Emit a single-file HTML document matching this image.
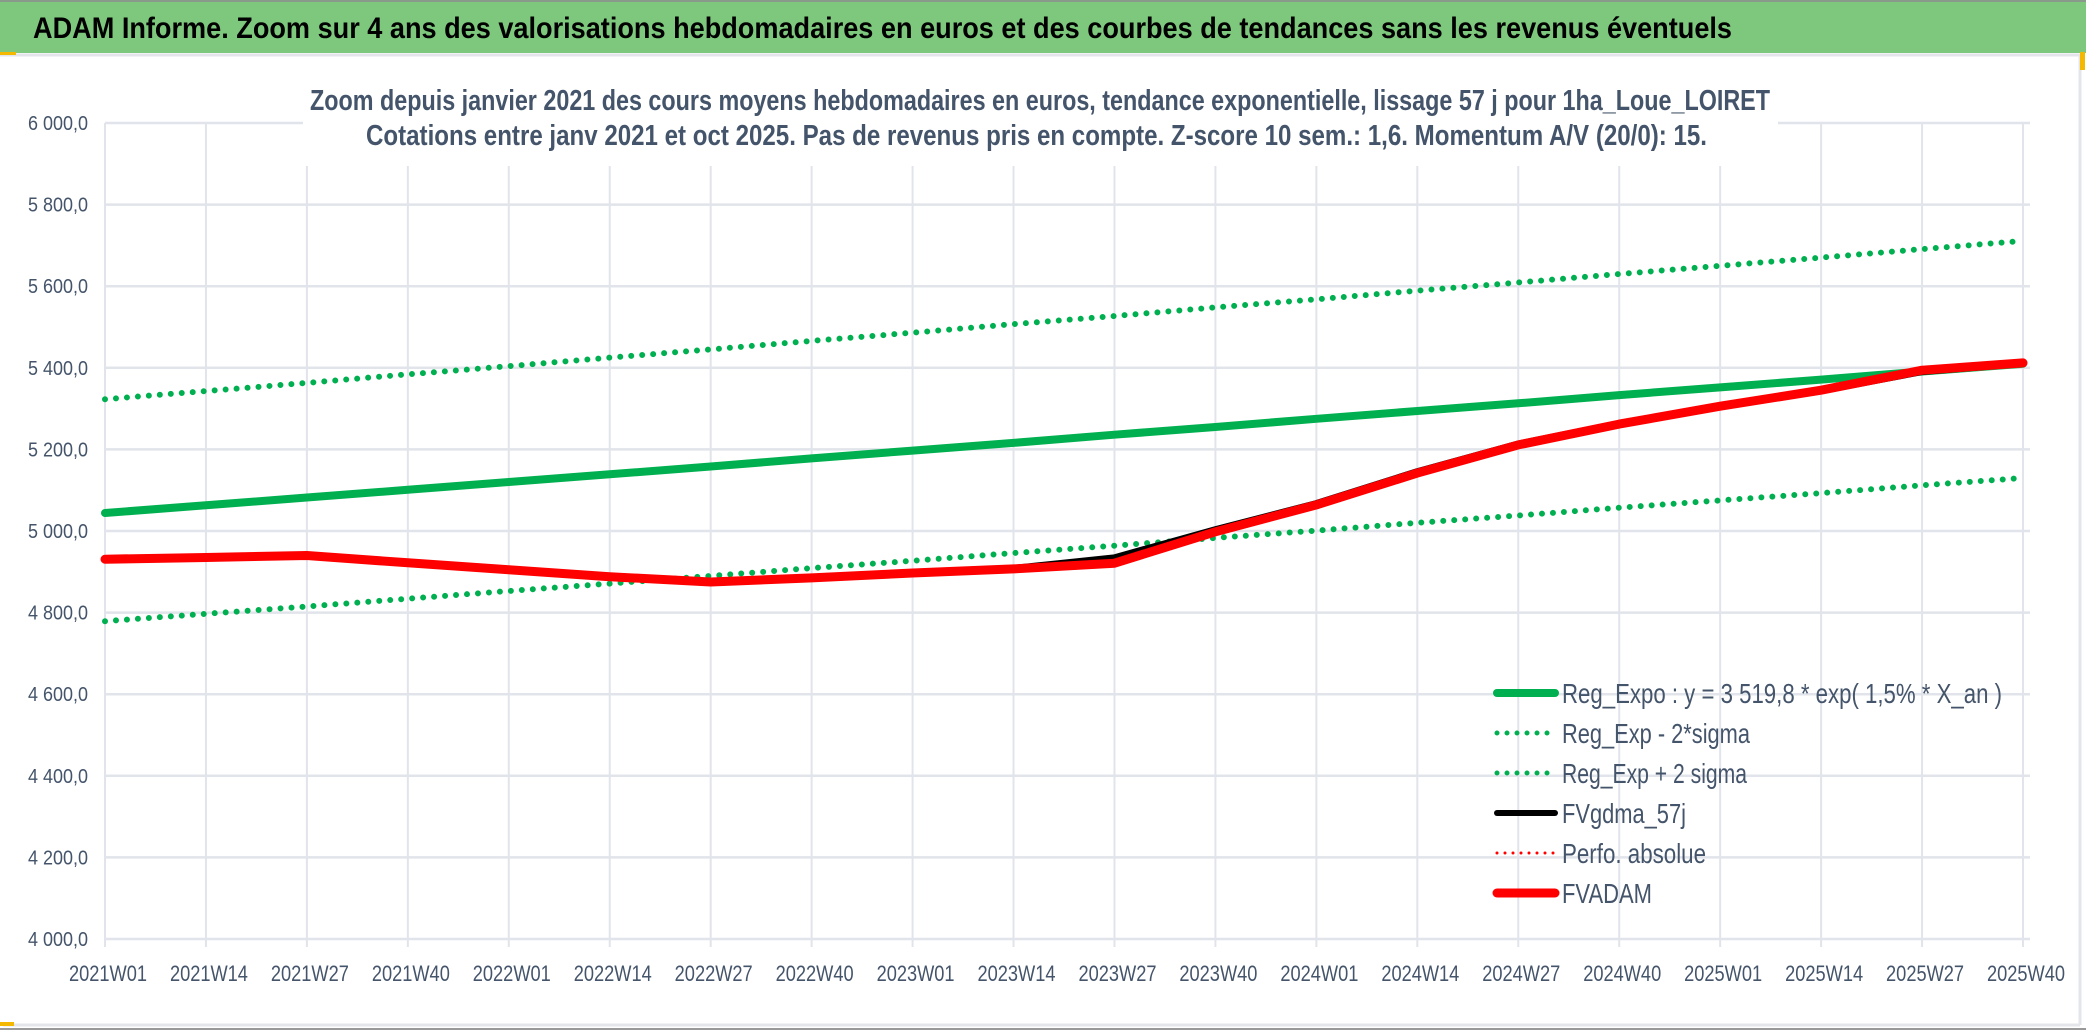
<!DOCTYPE html>
<html><head><meta charset="utf-8"><style>
html,body{margin:0;padding:0;background:#fff}
svg{display:block}
text{font-family:"Liberation Sans",sans-serif}
</style></head><body>
<svg id="chart" width="2086" height="1031" viewBox="0 0 2086 1031" xmlns="http://www.w3.org/2000/svg">
<rect x="0" y="0" width="2086" height="1031" fill="#fff"/>
<rect x="0" y="0" width="2086" height="53" fill="#7DC87D"/>
<line x1="0" y1="1" x2="2086" y2="1" stroke="#8a9a8a" stroke-width="2"/>
<line x1="0" y1="55" x2="2080" y2="55" stroke="#e3e5ea" stroke-width="3"/>
<line x1="2080" y1="55" x2="2080" y2="1025" stroke="#e3e5ea" stroke-width="3"/>
<line x1="3" y1="1025" x2="2080" y2="1025" stroke="#e3e5ea" stroke-width="3"/>
<line x1="0" y1="1029" x2="2086" y2="1029" stroke="#999" stroke-width="2"/>
<rect x="2080" y="52" width="5" height="18" fill="#F5B800"/>
<rect x="0" y="52" width="16" height="3" fill="#F5B800"/>
<rect x="0" y="1022" width="14" height="4" fill="#F5B800"/>
<text x="33" y="38" font-size="30" font-weight="bold" fill="#000" textLength="1699" lengthAdjust="spacingAndGlyphs">ADAM Informe. Zoom sur 4 ans des valorisations hebdomadaires en euros et des courbes de tendances sans les revenus éventuels</text>
<g id="grid"></g>
<rect x="303" y="70" width="1475" height="96" fill="#fff"/>
<text x="310" y="110" font-size="29" font-weight="bold" fill="#44546A" textLength="1460" lengthAdjust="spacingAndGlyphs">Zoom depuis janvier 2021 des cours moyens hebdomadaires en euros, tendance exponentielle, lissage 57 j pour 1ha_Loue_LOIRET</text>
<text x="366" y="145" font-size="29" font-weight="bold" fill="#44546A" textLength="1341" lengthAdjust="spacingAndGlyphs">Cotations entre janv 2021 et oct 2025. Pas de revenus pris en compte. Z-score 10 sem.: 1,6. Momentum A/V (20/0): 15.</text>
<g id="axes"></g>
<g id="series"></g>
<g id="legend"></g>
</svg>
<script>
const categories=["2021W01","2021W14","2021W27","2021W40","2022W01","2022W14","2022W27","2022W40","2023W01","2023W14","2023W27","2023W40","2024W01","2024W14","2024W27","2024W40","2025W01","2025W14","2025W27","2025W40"];
const yTicks=[4000,4200,4400,4600,4800,5000,5200,5400,5600,5800,6000];
const yTickLabels=["4 000,0","4 200,0","4 400,0","4 600,0","4 800,0","5 000,0","5 200,0","5 400,0","5 600,0","5 800,0","6 000,0"];
const regExpo=[5044,5063,5082,5101,5120,5139,5158,5178,5197,5216,5236,5255,5275,5294,5313,5333,5352,5371,5391,5410];
const regLow=[4779,4797,4815,4834,4853,4871,4890,4909,4927,4946,4964,4983,5001,5020,5038,5057,5075,5093,5112,5130];
const regHigh=[5323,5343,5363,5384,5404,5425,5445,5466,5486,5507,5527,5548,5568,5589,5609,5630,5650,5670,5691,5711];
const fvgdma=[4931,4935,4940,4922,4905,4888,4875,4885,4897,4907,4933,5002,5066,5144,5212,5262,5306,5345,5392,5412];
const perfo=[4931,4935,4940,4922,4905,4888,4875,4885,4897,4907,4921,4998,5064,5142,5211,5262,5306,5345,5394,5412];
const fvadam=[4931,4935,4940,4922,4905,4888,4875,4885,4897,4907,4921,4998,5064,5142,5211,5262,5306,5345,5394,5412];
const legendLabels=["Reg_Expo : y = 3 519,8 * exp( 1,5% *  X_an )","Reg_Exp - 2*sigma","Reg_Exp + 2 sigma","FVgdma_57j","Perfo. absolue","FVADAM"];

const NS="http://www.w3.org/2000/svg";
const X0=105,X1=2023,Y0=939,Y1=123,VMIN=4000,VMAX=6000;
const legendWidths=[440,188,185,124,144,90];
function xs(i){return X0+(X1-X0)*i/(categories.length-1);}
function ys(v){return Y0-(Y0-Y1)*(v-VMIN)/(VMAX-VMIN);}
function mk(tag,attrs,parent){const e=document.createElementNS(NS,tag);for(const k in attrs)e.setAttribute(k,attrs[k]);parent.appendChild(e);return e;}
const grid=document.getElementById('grid'),axes=document.getElementById('axes'),series=document.getElementById('series'),legend=document.getElementById('legend');
yTicks.forEach((v,i)=>{
  const l=mk('line',{x1:X0,x2:2030,y1:ys(v),y2:ys(v),stroke:'#E1E4EA','stroke-width':2.5},grid);
  
  
  const t=mk('text',{x:88,y:ys(v)+7,'font-size':20,fill:'#44546A','text-anchor':'end',textLength:60,lengthAdjust:'spacingAndGlyphs'},axes);
  t.textContent=yTickLabels[i];
  
  
});
categories.forEach((c,i)=>{
  const l=mk('line',{x1:xs(i),x2:xs(i),y1:Y1,y2:Y0+8,stroke:'#E1E4EA','stroke-width':2},grid);
  
  
  const t=mk('text',{x:xs(i)+3,y:981,'font-size':22,fill:'#44546A','text-anchor':'middle',textLength:78,lengthAdjust:'spacingAndGlyphs'},axes);
  t.textContent=c;
  
  
});
function path(vals){return vals.map((v,i)=>(i?'L':'M')+xs(i).toFixed(1)+' '+ys(v).toFixed(1)).join(' ');}
const styles=[
 {vals:regHigh,color:'#00B050',w:6,dash:'0 11',name:'reg-exp-plus-2sigma-line'},
 {vals:regLow,color:'#00B050',w:6,dash:'0 11',name:'reg-exp-minus-2sigma-line'},
 {vals:regExpo,color:'#00B050',w:8,dash:'',name:'reg-expo-line'},
 {vals:fvgdma,color:'#000',w:8,dash:'',name:'fvgdma-57j-line'},
 {vals:perfo,color:'#FF0000',w:3,dash:'0 7',name:'perfo-absolue-line'},
 {vals:fvadam,color:'#FF0000',w:9,dash:'',name:'fvadam-line'}
];
styles.forEach(s=>{
  const p=mk('path',{d:path(s.vals),fill:'none',stroke:s.color,'stroke-width':s.w,'stroke-linecap':'round','stroke-linejoin':'round'},series);
  if(s.dash)p.setAttribute('stroke-dasharray',s.dash);
  
  
});
const legStyles=[
 {color:'#00B050',w:8,dash:''},{color:'#00B050',w:5,dash:'0 10'},{color:'#00B050',w:5,dash:'0 10'},
 {color:'#000',w:6,dash:''},{color:'#FF0000',w:3,dash:'0 8'},{color:'#FF0000',w:9,dash:''}];
legendLabels.forEach((lab,i)=>{
  const y=693+40*i;
  const l=mk('line',{x1:1497,x2:1555,y1:y,y2:y,stroke:legStyles[i].color,'stroke-width':legStyles[i].w,'stroke-linecap':'round'},legend);
  if(legStyles[i].dash)l.setAttribute('stroke-dasharray',legStyles[i].dash);
  
  
  const t=mk('text',{x:1562,y:y+10,'font-size':28,fill:'#44546A',textLength:legendWidths[i],lengthAdjust:'spacingAndGlyphs'},legend);
  t.textContent=lab;
  
  
});
</script>
</body></html>
